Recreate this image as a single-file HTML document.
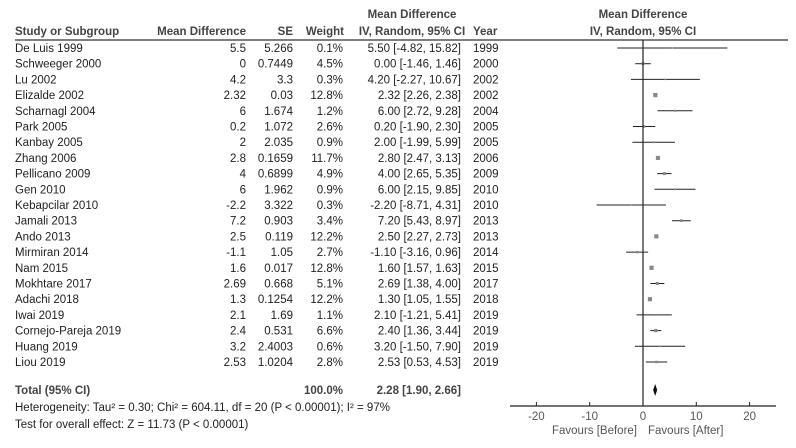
<!DOCTYPE html>
<html><head><meta charset="utf-8"><style>
body{margin:0;background:#fff;}
svg text{font-family:"Liberation Sans",Arial,sans-serif;font-size:11.5px;fill:#222;}
.b{font-weight:bold;fill:#444;}
</style></head><body>
<svg width="796" height="443">
<g id="tbl"></g><g id="plot"></g>
</svg>
<script>
const studies=["De Luis 1999","Schweeger 2000","Lu 2002","Elizalde 2002","Scharnagl 2004","Park 2005","Kanbay 2005","Zhang 2006","Pellicano 2009","Gen 2010","Kebapcilar 2010","Jamali 2013","Ando 2013","Mirmiran 2014","Nam 2015","Mokhtare 2017","Adachi 2018","Iwai 2019","Cornejo-Pareja 2019","Huang 2019","Liou 2019"];
const md=["5.5","0","4.2","2.32","6","0.2","2","2.8","4","6","-2.2","7.2","2.5","-1.1","1.6","2.69","1.3","2.1","2.4","3.2","2.53"];
const se=["5.266","0.7449","3.3","0.03","1.674","1.072","2.035","0.1659","0.6899","1.962","3.322","0.903","0.119","1.05","0.017","0.668","0.1254","1.69","0.531","2.4003","1.0204"];
const weights=[0.1,4.5,0.3,12.8,1.2,2.6,0.9,11.7,4.9,0.9,0.3,3.4,12.2,2.7,12.8,5.1,12.2,1.1,6.6,0.6,2.8];
const est=[5.5,0,4.2,2.32,6,0.2,2,2.8,4,6,-2.2,7.2,2.5,-1.1,1.6,2.69,1.3,2.1,2.4,3.2,2.53];
const lo=[-4.82,-1.46,-2.27,2.26,2.72,-1.9,-1.99,2.47,2.65,2.15,-8.71,5.43,2.27,-3.16,1.57,1.38,1.05,-1.21,1.36,-1.5,0.53];
const hi=[15.82,1.46,10.67,2.38,9.28,2.3,5.99,3.13,5.35,9.85,4.31,8.97,2.73,0.96,1.63,4.0,1.55,5.41,3.44,7.9,4.53];
const years=[1999,2000,2002,2002,2004,2005,2005,2006,2009,2010,2010,2013,2013,2014,2015,2017,2018,2019,2019,2019,2019];
const total=[2.28,1.90,2.66];
const ticks=[-20,-10,0,10,20];
const NS="http://www.w3.org/2000/svg";
const X=v=>643+v*5.33;
const rowY=i=>52+i*15.7;
function el(p,t,a,txt){const e=document.createElementNS(NS,t);for(const k in a)e.setAttribute(k,a[k]);if(txt!==undefined)e.textContent=txt;p.appendChild(e);return e;}
const T=document.getElementById('tbl'),P=document.getElementById('plot');
const f2=v=>v.toFixed(2);
let h;
h=el(T,'text',{x:15,y:35,class:'b'},'Study or Subgroup');
h=el(T,'text',{x:246,y:35,class:'b','text-anchor':'end'},'Mean Difference');
h=el(T,'text',{x:293,y:35,class:'b','text-anchor':'end'},'SE');
h=el(T,'text',{x:344,y:35,class:'b','text-anchor':'end'},'Weight');
h=el(T,'text',{x:412,y:18,class:'b','text-anchor':'middle'},'Mean Difference');
h=el(T,'text',{x:412,y:35,class:'b','text-anchor':'middle'},'IV, Random, 95% CI');
h=el(T,'text',{x:473,y:35,class:'b'},'Year');
h=el(T,'text',{x:643,y:18,class:'b','text-anchor':'middle'},'Mean Difference');
h=el(T,'text',{x:643,y:35,class:'b','text-anchor':'middle'},'IV, Random, 95% CI');
h=el(T,'line',{x1:15,x2:788,y1:40,y2:40,stroke:'#333','stroke-width':1.2});
studies.forEach((s,i)=>{const y=rowY(i);
 let e;
 e=el(T,'text',{x:15,y:y},s);
 e=el(T,'text',{x:246,y:y,'text-anchor':'end'},md[i]);
 e=el(T,'text',{x:293,y:y,'text-anchor':'end'},se[i]);
 e=el(T,'text',{x:343,y:y,'text-anchor':'end'},weights[i].toFixed(1)+'%');
 e=el(T,'text',{x:461,y:y,'text-anchor':'end'},f2(est[i])+' ['+f2(lo[i])+', '+f2(hi[i])+']');
 e=el(T,'text',{x:473,y:y},years[i]);
 const cy=y-4;
 e=el(P,'line',{x1:X(lo[i]),x2:X(hi[i]),y1:cy,y2:cy,stroke:'#222','stroke-width':1});
 const sz=1+Math.sqrt(weights[i])*0.9;
 e=el(P,'rect',{x:X(est[i])-sz/2,y:cy-sz/2,width:sz,height:sz,fill:'#888'});
});
let e;
e=el(T,'text',{x:15,y:394,class:'b'},'Total (95% CI)');
e=el(T,'text',{x:343,y:394,class:'b','text-anchor':'end'},'100.0%');
e=el(T,'text',{x:461,y:394,class:'b','text-anchor':'end'},f2(total[0])+' ['+f2(total[1])+', '+f2(total[2])+']');
e=el(T,'text',{x:15,y:411},'Heterogeneity: Tau² = 0.30; Chi² = 604.11, df = 20 (P < 0.00001); I² = 97%');
e=el(T,'text',{x:15,y:428},'Test for overall effect: Z = 11.73 (P < 0.00001)');
e=el(P,'line',{x1:643,x2:643,y1:40,y2:406,stroke:'#222','stroke-width':1.2});
e=el(P,'polygon',{points:`${X(total[1])},390 ${X(total[0])},384 ${X(total[2])},390 ${X(total[0])},396`,fill:'#111'});
e=el(P,'line',{x1:510,x2:776,y1:406,y2:406,stroke:'#222','stroke-width':1.2});
ticks.forEach(t=>{let k=el(P,'line',{x1:X(t),x2:X(t),y1:402,y2:406,stroke:'#222'});
 k=el(P,'text',{x:X(t),y:420,'text-anchor':'middle',style:'fill:#555'},t);});
e=el(P,'text',{x:637,y:434,'text-anchor':'end',style:'fill:#555'},'Favours [Before]');
e=el(P,'text',{x:648,y:434,style:'fill:#555'},'Favours [After]');
</script>
</body></html>
